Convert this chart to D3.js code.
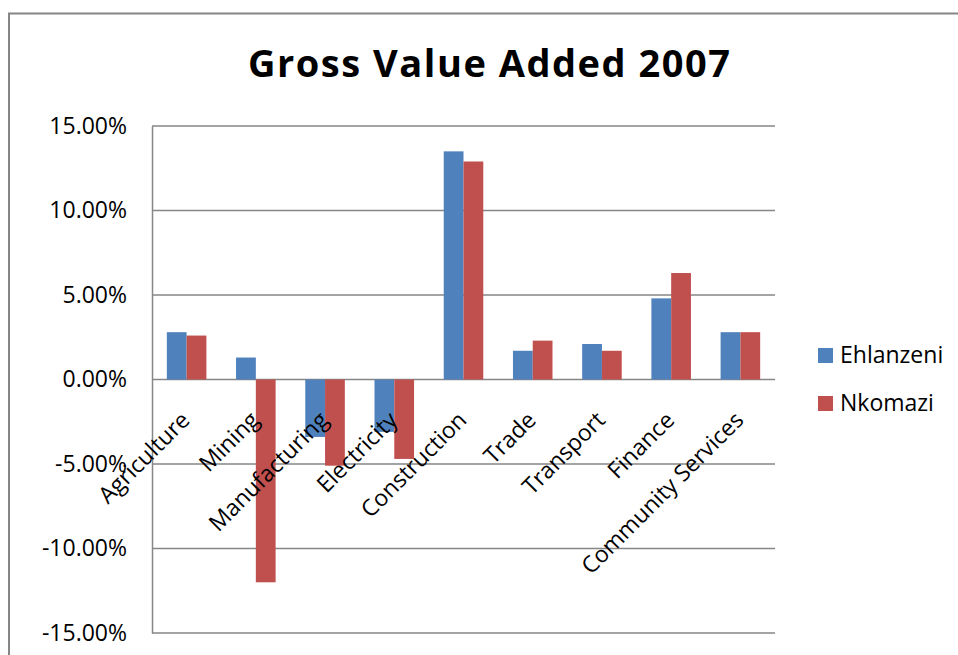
<!DOCTYPE html>
<html>
<head>
<meta charset="utf-8">
<script src="https://cdn.jsdelivr.net/npm/d3@7"></script>
<style>
  html, body { margin: 0; padding: 0; background: #fff; }
  svg { display: block; font-family: "Open Sans", "Noto Sans", sans-serif; }
</style>
</head>
<body>
<svg id="chart" width="958" height="655"></svg>
<script>
// Gross value added growth by sector, 2007
const categories = ["Agriculture", "Mining", "Manufacturing", "Electricity", "Construction",
                    "Trade", "Transport", "Finance", "Community Services"];
const ehlanzeni = [0.028, 0.013, -0.034, -0.031, 0.135, 0.017, 0.021, 0.048, 0.028];
const nkomazi   = [0.026, -0.120, -0.051, -0.047, 0.129, 0.023, 0.017, 0.063, 0.028];
const seriesNames = ["Ehlanzeni", "Nkomazi"];
const seriesColors = ["#4F81BD", "#C0504D"];
const yTicks = [-0.15, -0.10, -0.05, 0, 0.05, 0.10, 0.15];

const series = [ehlanzeni, nkomazi];
const svg = d3.select("#chart");
const gridColor = "#868686";

// Outer chart frame
svg.append("rect")
  .attr("x", 9).attr("y", 13.5)
  .attr("width", 960).attr("height", 660)
  .attr("fill", "none").attr("stroke", gridColor).attr("stroke-width", 2);

const plot = { left: 152, right: 775, top: 126, bottom: 633 };

const y = d3.scaleLinear().domain([-0.15, 0.15]).range([plot.bottom, plot.top]);
const x = d3.scaleBand().domain(categories).range([plot.left, plot.right]).padding(0);
const barW = x.bandwidth() / 3.5;

// Title
svg.append("text")
  .attr("x", 489).attr("y", 77)
  .attr("text-anchor", "middle")
  .attr("font-weight", "bold")
  .attr("font-size", 38)
  .attr("textLength", 482)
  .attr("lengthAdjust", "spacing")
  .attr("fill", "#000")
  .text("Gross Value Added 2007");

// Horizontal gridlines
svg.append("g").selectAll("line").data(yTicks).join("line")
  .attr("x1", plot.left).attr("x2", plot.right)
  .attr("y1", d => y(d)).attr("y2", d => y(d))
  .attr("stroke", gridColor).attr("stroke-width", 1.5);

// Y axis with percentage labels (plain hyphen for negatives)
const pct = d3.format(".2%");
const fmt = d => pct(d).replace("\u2212", "-");
const yAxis = svg.append("g")
  .attr("transform", `translate(${plot.left},0)`)
  .call(d3.axisLeft(y).tickValues(yTicks).tickFormat(fmt).tickSize(0).tickPadding(25));
yAxis.select(".domain").attr("stroke", gridColor).attr("stroke-width", 1.5);
yAxis.selectAll("text")
  .attr("font-size", 23)
  .attr("font-family", "'Open Sans', sans-serif")
  .attr("fill", "#000");

// Bars
const groups = svg.append("g").selectAll("g").data(categories).join("g")
  .attr("transform", d => `translate(${x(d) + x.bandwidth() / 2 - barW},0)`);
groups.selectAll("rect")
  .data((d, i) => series.map((s, k) => ({ k, v: s[i] })))
  .join("rect")
  .attr("x", d => d.k * barW)
  .attr("width", barW)
  .attr("y", d => y(Math.max(0, d.v)))
  .attr("height", d => Math.abs(y(d.v) - y(0)))
  .attr("fill", d => seriesColors[d.k]);

// Category labels, rotated next to the zero line
svg.append("g").selectAll("text").data(categories).join("text")
  .attr("transform", d => `translate(${x(d) + x.bandwidth() / 2 + 4.6},${y(0) + 42}) rotate(-45)`)
  .attr("text-anchor", "end")
  .attr("font-size", 23)
  .attr("fill", "#000")
  .text(d => d);

// Legend
const legend = svg.append("g").selectAll("g").data(seriesNames).join("g")
  .attr("transform", (d, i) => `translate(818,${348 + i * 48})`);
legend.append("rect")
  .attr("width", 15).attr("height", 15)
  .attr("fill", (d, i) => seriesColors[i]);
legend.append("text")
  .attr("x", 22).attr("y", 15)
  .attr("font-size", 23)
  .attr("fill", "#000")
  .text(d => d);
</script>
</body>
</html>
